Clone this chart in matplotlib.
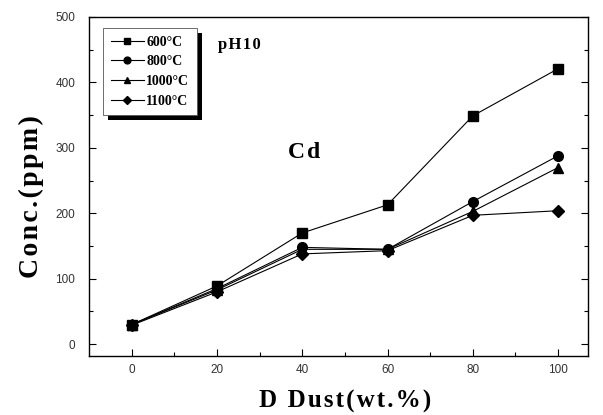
import numpy as np
import matplotlib
matplotlib.use("Agg")
import matplotlib.pyplot as plt
from matplotlib.patches import Rectangle

# D dust content (wt.%)
dust = [0, 20, 40, 60, 80, 100]

# Cd concentration (ppm) at pH10 for each firing temperature
cd_600 = [30, 89, 170, 213, 349, 421]
cd_800 = [30, 85, 148, 145, 218, 288]
cd_1000 = [30, 83, 145, 145, 203, 270]
cd_1100 = [29, 80, 138, 143, 197, 204]

labels = ["600°C", "800°C", "1000°C", "1100°C"]
series = [cd_600, cd_800, cd_1000, cd_1100]
markers = ["s", "o", "^", "D"]
msizes = [6.5, 7, 7, 6]

serif = ["Liberation Serif", "DejaVu Serif"]
sans = "Liberation Sans"

W, H = 603, 415

def spaced(s):
    # loose letter spacing like the scanned original
    return "\u200a".join(s)

fig = plt.figure(figsize=(W/100, H/100), dpi=100)
ax = fig.add_axes([89/W, 1-356/H, (588-89)/W, (356-17)/H])

for y, lab, m, ms in zip(series, labels, markers, msizes):
    ax.plot(dust, y, '-', color='black', lw=0.8, marker=m, ms=ms, label=lab)

ax.set_xlim(-10, 107)
ax.set_ylim(-18, 500)
ax.set_xticks([0, 20, 40, 60, 80, 100])
ax.set_xticks(np.arange(10, 101, 20), minor=True)
ax.set_yticks([0, 100, 200, 300, 400, 500])
ax.set_yticks([50, 150, 250, 350, 450], minor=True)
ax.tick_params(which='both', direction='in', top=False, right=True)
ax.tick_params(which='major', length=5, width=0.8)
ax.tick_params(which='minor', length=3, width=0.8)
ax.tick_params(axis='both', labelsize=8.5, labelcolor='#333333')
ax.tick_params(axis='y', pad=10)
ax.tick_params(axis='x', pad=6)
for t in ax.get_xticklabels() + ax.get_yticklabels():
    t.set_family(sans)
for s in ax.spines.values():
    s.set_linewidth(1.0)

fig.text(31/W, 1-197/H, spaced("Conc.(ppm)"), rotation=90, fontsize=20,
         fontweight='bold', family=serif, ha='center', va='center')
fig.text(345/W, 1-401/H, spaced("D Dust(wt.%)"), fontsize=18,
         fontweight='bold', family=serif, ha='center', va='center')

fig.text(218/W, 1-45/H, spaced("pH10"), fontsize=12, fontweight='bold',
         family=serif, ha='left', va='center')
fig.text(288/W, 1-152/H, spaced("Cd"), fontsize=17, fontweight='bold',
         family=serif, ha='left', va='center')

leg = ax.legend(loc='upper left', bbox_to_anchor=((103-89)/499, (356-28)/339),
                frameon=True, fancybox=False, framealpha=1,
                prop={'family': serif, 'weight': 'bold', 'size': 10},
                handlelength=2.4, handletextpad=0.15, labelspacing=0.48,
                borderpad=0.55, borderaxespad=0, markerscale=0.7,
                edgecolor='#555555')
leg.get_frame().set_linewidth(0.6)
leg.set_zorder(6)

# solid black drop shadow behind the legend box
fig.canvas.draw()
bb = leg.get_window_extent()
ax.add_patch(Rectangle((bb.x0 + 5, bb.y0 - 5), bb.width, bb.height, transform=None,
                       facecolor='black', edgecolor='none', zorder=5.5))

fig.savefig("out.png", dpi=100)
